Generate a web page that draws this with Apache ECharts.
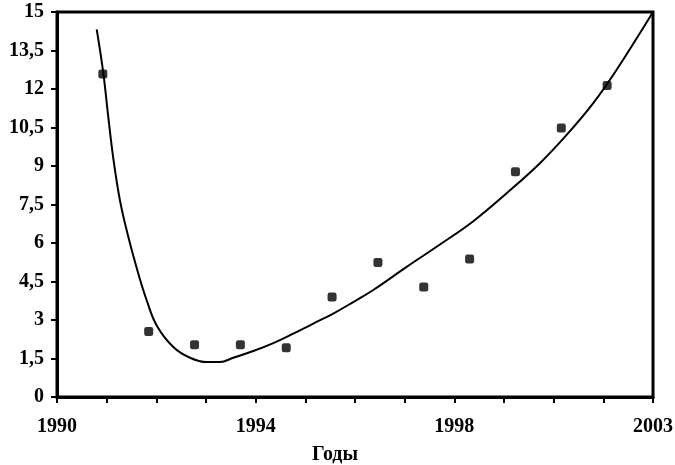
<!DOCTYPE html>
<html>
<head>
<meta charset="utf-8">
<script src="https://cdn.jsdelivr.net/npm/echarts@6/dist/echarts.min.js"></script>
<style>html,body{margin:0;padding:0;background:#fff}#c{width:675px;height:465px}</style>
</head>
<body>
<div id="c"></div>
<script>
// Observed data points (year, value)
var pointYears = [1991, 1992, 1993, 1994, 1995, 1996, 1997, 1998, 1999, 2000, 2001, 2002];
var pointValues = [12.58, 2.55, 2.04, 2.04, 1.92, 3.90, 5.24, 4.29, 5.38, 8.78, 10.48, 12.14];
// Trend curve (year, value)
var trendYears = [1990.866, 1991.010, 1991.119, 1991.228, 1991.374, 1991.555, 1991.773, 1991.956, 1992.174, 1992.537, 1992.901, 1993.265, 1993.555, 1993.845, 1994.281, 1994.718, 1995.154, 1995.590, 1996.026, 1996.462, 1996.898, 1997.627, 1998.353, 1999.080, 1999.808, 2000.534, 2001.116, 2001.697, 2002.207, 2003.0];
var trendValues = [14.32, 12.62, 10.9, 9.3, 7.65, 6.24, 4.81, 3.77, 2.79, 1.95, 1.53, 1.36, 1.36, 1.53, 1.79, 2.10, 2.47, 2.86, 3.25, 3.70, 4.17, 5.07, 5.94, 6.85, 7.94, 9.11, 10.21, 11.45, 12.75, 15.0];
// Axis tick labels
var xTickLabels = ['1990', '', '', '', '1994', '', '', '', '1998', '', '', '', '2003'];
var yTicks = ['0', '1,5', '3', '4,5', '6', '7,5', '9', '10,5', '12', '13,5', '15'];
var startYear = 1990, endYear = 2003;

var span = endYear - startYear;
var step = span / 12;
var chart = echarts.init(document.getElementById('c'));
var font = '"Liberation Serif", "Times New Roman", serif';
chart.setOption({
  animation: false,
  grid: {left: 57, right: 22, top: 12, bottom: 68, outerBoundsMode: 'none', containLabel: false, show: true, borderColor: '#000', borderWidth: 3},
  xAxis: {
    type: 'value', min: 0, max: span, interval: step,
    axisLine: {show: true, lineStyle: {color: '#000', width: 3}},
    axisTick: {show: true, length: 6, lineStyle: {color: '#000', width: 2}},
    splitLine: {show: false},
    axisLabel: {
      color: '#000', fontFamily: font, fontWeight: 'bold', fontSize: 20, margin: 20,
      formatter: function (v) { var i = Math.round(v / step); return xTickLabels[i] || ''; }
    },
    name: 'Годы', nameLocation: 'middle', nameGap: 48,
    nameTextStyle: {color: '#000', fontFamily: font, fontWeight: 'bold', fontSize: 20, padding: [0, 40, 0, 0]}
  },
  yAxis: {
    type: 'value', min: 0, max: 15, interval: 1.5,
    axisLine: {show: true, lineStyle: {color: '#000', width: 3}},
    axisTick: {show: true, length: 6, lineStyle: {color: '#000', width: 2}},
    splitLine: {show: false},
    axisLabel: {
      color: '#000', fontFamily: font, fontWeight: 'bold', fontSize: 20, margin: 13,
      formatter: function (v) { return yTicks[Math.round(v / 1.5)]; }
    }
  },
  series: [
    {
      type: 'line', smooth: 0.4, showSymbol: false,
      lineStyle: {color: '#000', width: 2},
      data: trendYears.map(function (y, i) { return [y - startYear, trendValues[i]]; })
    },
    {
      type: 'scatter', symbol: 'roundRect', symbolSize: 9,
      itemStyle: {color: '#000'},
      data: pointYears.map(function (y, i) { return [y - startYear, pointValues[i]]; })
    }
  ]
});
</script>
</body>
</html>
